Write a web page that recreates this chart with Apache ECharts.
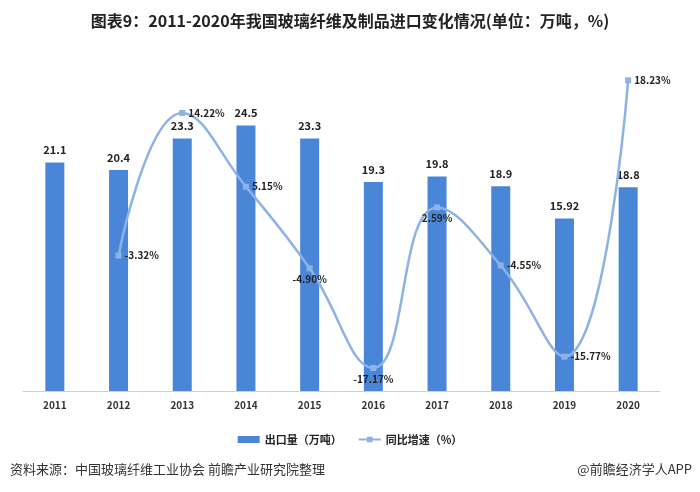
<!DOCTYPE html>
<html><head><meta charset="utf-8">
<script src="https://cdn.jsdelivr.net/npm/echarts@6/dist/echarts.min.js"></script>
<style>html,body{margin:0;padding:0;background:#fff}#c{width:700px;height:492px}</style>
</head><body><div id="c"></div>
<script>
var years = ['2011','2012','2013','2014','2015','2016','2017','2018','2019','2020'];
var volume = [21.1, 20.4, 23.3, 24.5, 23.3, 19.3, 19.8, 18.9, 15.92, 18.8];
var growth = [null, -3.32, 14.22, 5.15, -4.90, -17.17, 2.59, -4.55, -15.77, 18.23];
var growthLabelPos = ['right','right','right','right','bottom','bottom','bottom','right','right','right'];

var chart = echarts.init(document.getElementById('c'));
var font = '"Noto Sans CJK SC", "Liberation Sans", sans-serif';
chart.setOption({
  animation: false,
  textStyle: {fontFamily: font},
  title: [{
    text: '图表9：2011-2020年我国玻璃纤维及制品进口变化情况(单位：万吨，%)',
    left: 'center', top: 8,
    textStyle: {fontSize: 16, fontWeight: 'bold', color: '#222', fontFamily: font}
  }, {
    text: '资料来源：中国玻璃纤维工业协会 前瞻产业研究院整理',
    left: 5, top: 458,
    textStyle: {fontSize: 13, fontWeight: 'normal', color: '#333', fontFamily: font}
  }, {
    text: '@前瞻经济学人APP',
    right: 3, top: 458,
    textStyle: {fontSize: 13, fontWeight: 'normal', color: '#333', fontFamily: font}
  }],
  legend: {
    top: 429, left: 'center', itemGap: 16,
    textStyle: {fontSize: 11, fontWeight: 'bold', color: '#222'},
    data: [
      {name: '出口量（万吨）', icon: 'rect', itemStyle: {color: '#4a86d8'}},
      {name: '同比增速（%）'}
    ],
    itemWidth: 22, itemHeight: 7
  },
  grid: {left: 23, right: 40, top: 66, bottom: 101},
  xAxis: {
    type: 'category', data: years,
    axisLine: {lineStyle: {color: '#d0d0d0'}},
    axisTick: {show: false},
    axisLabel: {fontSize: 10, fontWeight: 'bold', color: '#333', margin: 9}
  },
  yAxis: [
    {type: 'value', min: 0, max: 30, show: false, splitLine: {show: false}},
    {type: 'value', min: -20, max: 20, show: false, splitLine: {show: false}}
  ],
  series: [{
    name: '出口量（万吨）', type: 'bar', yAxisIndex: 0, data: volume,
    barWidth: 19,
    itemStyle: {color: '#4a86d8'},
    label: {show: true, position: 'top', fontSize: 11, fontWeight: 'bold', color: '#222', distance: 7}
  }, {
    name: '同比增速（%）', type: 'line', yAxisIndex: 1, smooth: 0.45,
    data: growth.map(function (v, i) {
      return {value: v, label: {position: growthLabelPos[i]}};
    }),
    lineStyle: {color: '#8db3e6', width: 2.5},
    itemStyle: {color: '#8db3e6'},
    symbol: 'rect', symbolSize: 6,
    label: {show: true, fontSize: 10, fontWeight: 'bold', color: '#222', distance: 3,
      formatter: function (p) { return p.value == null ? '' : p.value.toFixed(2) + '%'; }}
  }]
});
</script></body></html>
